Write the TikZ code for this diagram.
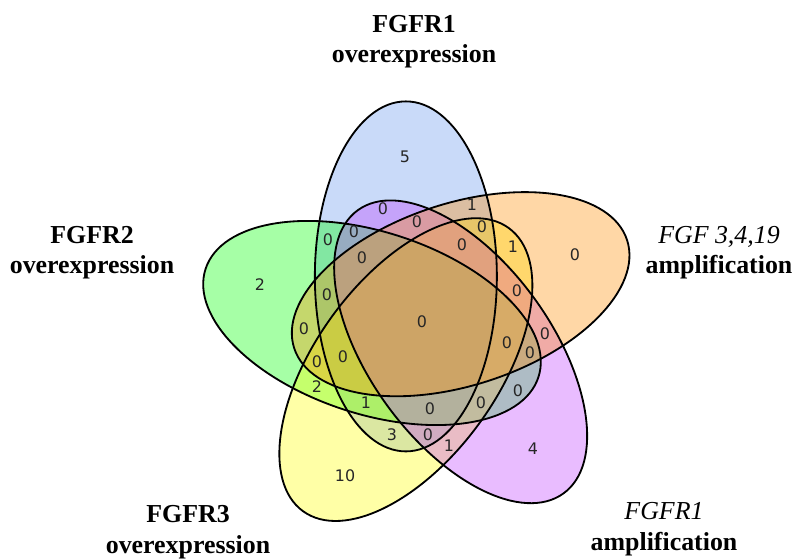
\documentclass[tikz,border=0pt]{standalone}
\usepackage{fontspec}
\setmainfont{Liberation Serif}
\newfontfamily\vdsans{DejaVu Sans}
\usepackage{tikz}
\definecolor{vdBlue}{RGB}{100,149,237}
\definecolor{vdGreen}{RGB}{0,255,0}
\definecolor{vdYellow}{RGB}{255,255,0}
\definecolor{vdPurple}{RGB}{191,62,255}
\definecolor{vdOrange}{RGB}{255,140,0}
\definecolor{vdInk}{HTML}{262626}
\tikzset{
  vd diagram/.style={x=0.025cm, y=0.025cm},
  vd fill/.style={fill=#1, fill opacity=0.35},
  vd outline/.style={draw=black, line width=1.3pt},
  vd set/.style={font=\fontsize{18.4}{21.6}\selectfont\bfseries,
    align=center, inner sep=0pt},
  vd count/.style={font=\vdsans\fontsize{11.3}{13}\selectfont,
    text=vdInk, inner sep=0pt}
}

\begin{document}
\begin{tikzpicture}[vd diagram]
\useasboundingbox (0,0) rectangle (793,559);
\coordinate (hub) at (421,236);
% five ellipses, each one turned 72 degrees from the last
\foreach \turn/\shade in {0/vdBlue,72/vdGreen,144/vdYellow,-144/vdPurple,-72/vdOrange}
  \fill[vd fill=\shade, shift={(hub)}, rotate=\turn] (108:49) ellipse [x radius=91, y radius=175];
\foreach \turn in {0,72,144,-144,-72}
  \draw[vd outline, shift={(hub)}, rotate=\turn] (108:49) ellipse [x radius=91, y radius=175];

% set names
\node[vd set] (fgfr1over) at (414,517) {FGFR1\\overexpression};
\node[vd set] (fgfr2over) at (92,306) {FGFR2\\overexpression};
\node[vd set] (fgfamp) at (719,306) {{\mdseries\itshape FGF 3,4,19}\\amplification};
\node[vd set] (fgfr3over) at (188,27) {FGFR3\\overexpression};
\node[vd set] (fgfr1amp) at (664,30) {{\mdseries\itshape FGFR1}\\amplification};

% region counts
\foreach \cx/\cy/\val [count=\k] in {
  405/402/5, 575/304/0, 533/110/4, 345/83/10, 260/274/2,
  383/350/0, 472/354/1, 417/337/0, 354/327/0, 328/319/0,
  482/332/0, 513/312/1, 462/314/0, 362/301/0, 327/264/0,
  517/268/0, 422/237/0, 304/230/0, 545/225/0, 507/216/0,
  530/206/0, 317/197/0, 343/202/0, 317/172/2, 366/156/1,
  430/150/0, 481/156/0, 518/168/0, 392/124/3, 428/124/0,
  449/113/1}
  \node[vd count] (count\k) at (\cx,\cy) {\val};
\end{tikzpicture}
\end{document}
